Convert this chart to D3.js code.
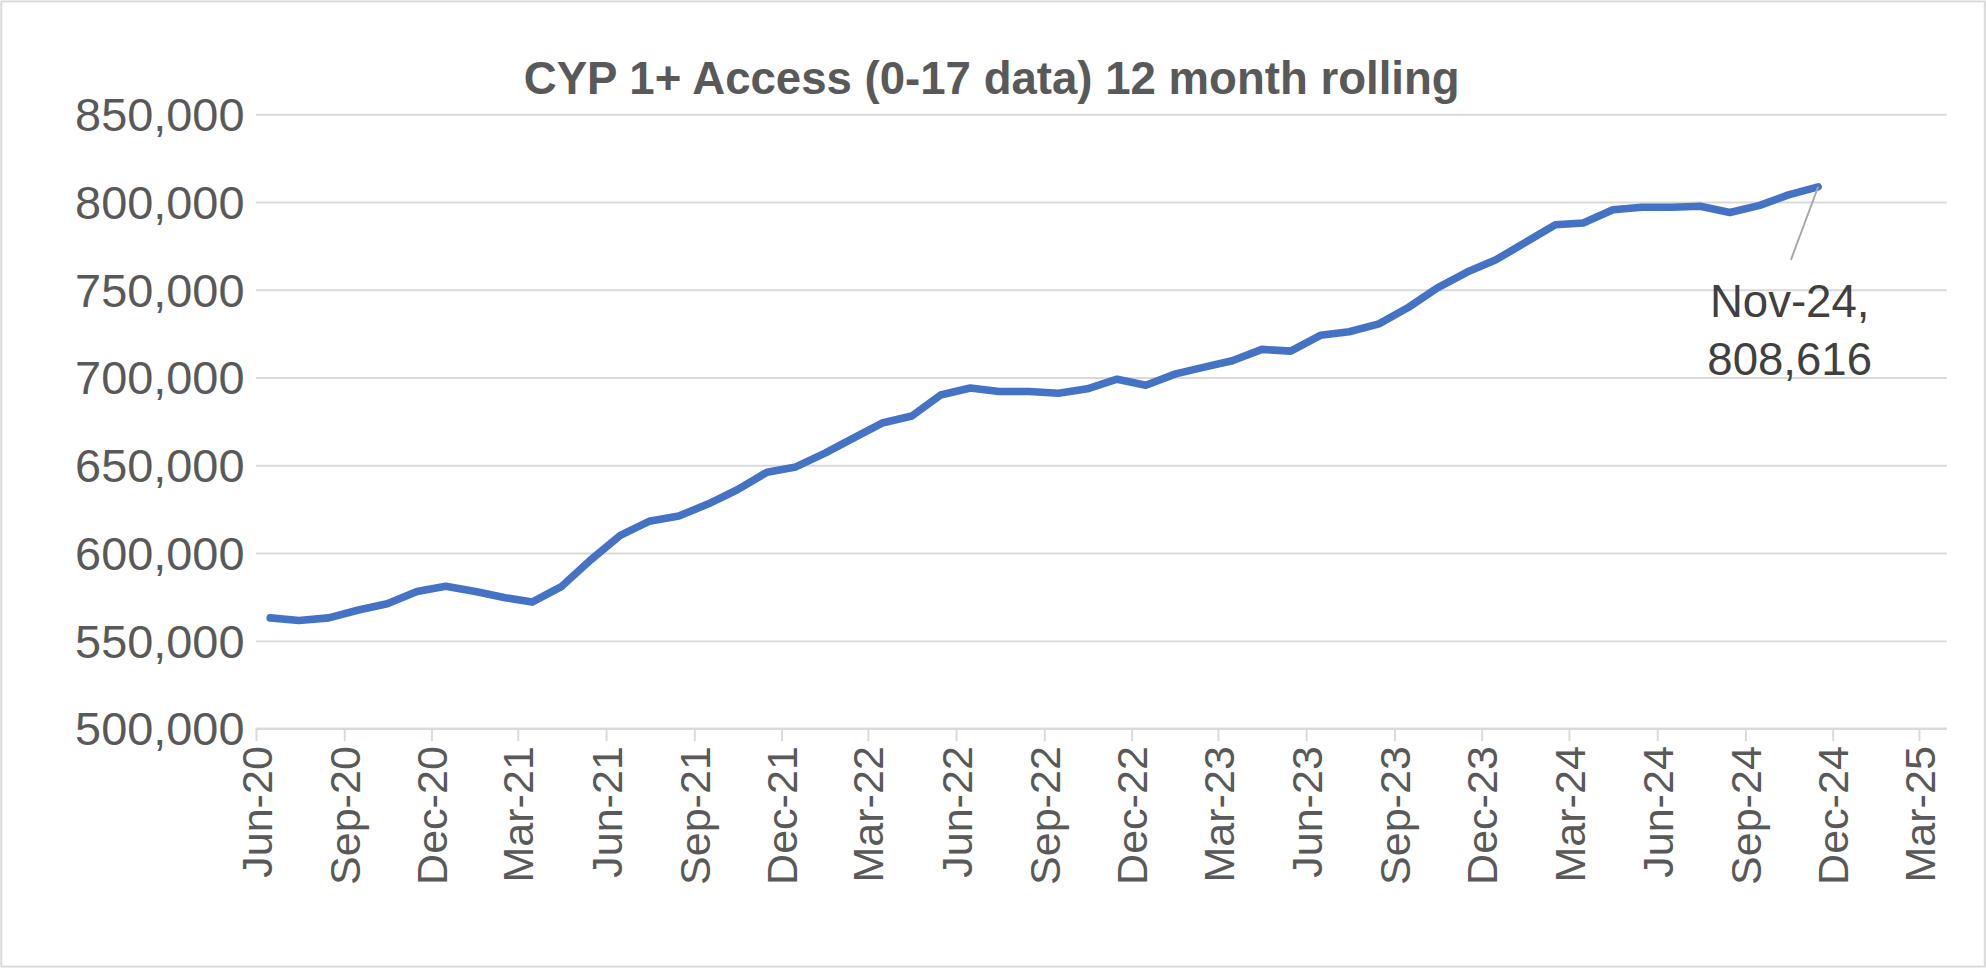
<!DOCTYPE html><html><head><meta charset="utf-8"><script src="https://cdn.jsdelivr.net/npm/d3@7"></script>
<style>body{margin:0;background:#fff}</style></head><body><script>
const startMonth = "2020-06";
const values = [563000,561500,563000,567500,571000,578000,581000,578000,574500,572000,581000,596000,610000,618000,621000,628000,636000,646000,649000,657000,666000,674000,678000,690000,694000,692000,692000,691000,693500,699000,695500,702000,706000,709500,716000,715000,724000,726000,730500,740000,751000,760000,767000,777000,787000,788000,795500,797000,797000,797500,794000,798000,804000,808616];
const yTicks = [500000,550000,600000,650000,700000,750000,800000,850000];
const title = "CYP 1+ Access (0-17 data) 12 month rolling";
const annotation = ["Nov-24,", "808,616"];

const W=1568,H=764;
const svg=d3.select("body").append("svg").attr("width",1986).attr("height",968).attr("viewBox",`0 0 ${W} ${H}`);
svg.append("rect").attr("x",1).attr("y",1).attr("width",W-2).attr("height",H-2).attr("fill","#fff").attr("stroke","#d9d9d9").attr("stroke-width",1.5);
const parse=d3.timeParse("%Y-%m");
const d0=parse(startMonth);
const data=values.map((v,i)=>({d:d3.timeDay.offset(d3.timeMonth.offset(d0,i),15),v}));
const x=d3.scaleTime().domain([parse("2020-06"),parse("2025-03")]).range([202,1515]);
const y=d3.scaleLinear().domain([500000,850000]).range([575,90]);
const font="Liberation Sans, Arial, sans-serif";
svg.append("text").attr("x",783).attr("y",74).attr("text-anchor","middle").attr("font-family",font).attr("font-weight","bold").attr("font-size",36).attr("fill","#595959").text(title);
const ya=svg.append("g").attr("transform","translate(202,0)").call(d3.axisLeft(y).tickValues(yTicks).tickSize(-(1515-202+22)).tickFormat(d3.format(",")).tickPadding(9));
ya.select(".domain").remove();
ya.selectAll("line").attr("stroke","#d9d9d9").attr("stroke-width",1.5);
ya.selectAll("text").attr("font-family",font).attr("font-size",37).attr("fill","#595959").attr("dy","0.35em");
const xt=d3.timeMonth.range(parse("2020-06"),d3.timeMonth.offset(parse("2025-03"),1),3);
const xa=svg.append("g").attr("transform","translate(0,575)").call(d3.axisBottom(x).tickValues(xt).tickSize(10).tickFormat(d3.timeFormat("%b-%y")));
xa.select(".domain").attr("stroke","#d9d9d9").attr("stroke-width",1.5).attr("d","M202,0H1537");
xa.selectAll("line").attr("stroke","#d9d9d9").attr("stroke-width",1.5);
xa.selectAll("text").attr("font-family",font).attr("font-size",34).attr("fill","#595959").attr("transform","rotate(-90)").attr("text-anchor","end").attr("x",-14).attr("y",0).attr("dy","0.35em");
svg.append("path").datum(data).attr("fill","none").attr("stroke","#4472c4").attr("stroke-width",6).attr("stroke-linejoin","round").attr("stroke-linecap","round").attr("d",d3.line().x(d=>x(d.d)).y(d=>y(d.v)));
const last=data[data.length-1];
svg.append("line").attr("x1",x(last.d)).attr("y1",y(last.v)).attr("x2",1414).attr("y2",205).attr("stroke","#a6a6a6").attr("stroke-width",1.5);
svg.append("text").attr("x",1413).attr("y",250).attr("text-anchor","middle").attr("font-family",font).attr("font-size",36).attr("fill","#404040").text(annotation[0]);
svg.append("text").attr("x",1413).attr("y",296).attr("text-anchor","middle").attr("font-family",font).attr("font-size",36).attr("fill","#404040").text(annotation[1]);
</script></body></html>
